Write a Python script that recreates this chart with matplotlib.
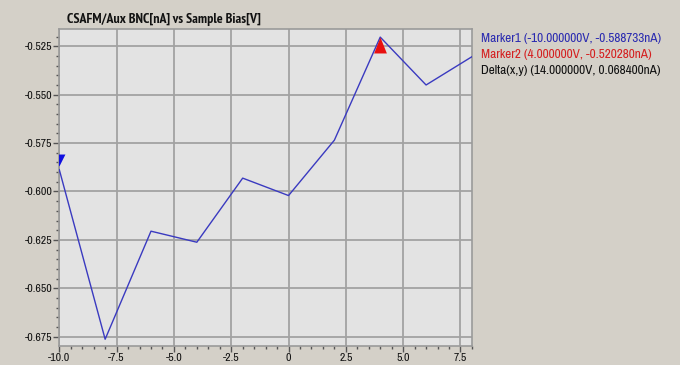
import matplotlib
matplotlib.use("Agg")
import matplotlib.pyplot as plt
from matplotlib.ticker import MultipleLocator, FuncFormatter

# Sweep data: sample bias [V] vs CSAFM/Aux BNC current [nA]
bias_v = [-10, -8, -6, -4, -2, 0, 2, 4, 6, 8]
current_na = [-0.588733, -0.6763, -0.6205, -0.6262, -0.5931, -0.6021,
              -0.5735, -0.520280, -0.5450, -0.5304]

marker1 = (-10.0, -0.588733)
marker2 = (4.0, -0.520280)
readouts = [
    ("Marker1 (-10.000000V, -0.588733nA)", "#2b2bb0"),
    ("Marker2 (4.000000V, -0.520280nA)", "#d42020"),
    ("Delta(x,y) (14.000000V, 0.068400nA)", "#111111"),
]

narrow = ["Archivo Narrow", "PT Sans Narrow", "Liberation Sans", "DejaVu Sans"]
narrow_bold = ["PT Sans Narrow", "Archivo Narrow", "Liberation Sans", "DejaVu Sans"]
plt.rcParams["font.family"] = narrow

fig = plt.figure(figsize=(6.8, 3.65), dpi=100, facecolor="#d4d0c8")
ax = fig.add_axes([0.0872, 0.052, 0.6068, 0.8685], facecolor="#e3e3e3")

ax.plot(bias_v, current_na, color="#3a3ac0", lw=1.0, zorder=3)

# Marker glyphs: marker 1 hangs just above its point, marker 2 has its apex on it
down_tri = [(0, 0.35), (-0.5, 1.35), (0.5, 1.35), (0, 0.35)]
up_tri = [(0, 0), (-0.4, -1.0), (0.4, -1.0), (0, 0)]
ax.plot([marker1[0]], [marker1[1]], marker=down_tri, ms=23, color="#1010e0",
        mec="none", ls="none", zorder=4, clip_on=True)
ax.plot([marker2[0]], [marker2[1]], marker=up_tri, ms=23, color="#e81010",
        mec="none", ls="none", zorder=4, clip_on=False)

ax.set_xlim(-10, 8)
ax.set_ylim(-0.6798, -0.5161)

ax.xaxis.set_major_locator(MultipleLocator(2.5))
ax.xaxis.set_minor_locator(MultipleLocator(0.5))
ax.yaxis.set_major_locator(MultipleLocator(0.025))
ax.yaxis.set_minor_locator(MultipleLocator(0.005))


def xfmt(v, pos):
    return "0" if abs(v) < 1e-9 else f"{v:.1f}"


ax.xaxis.set_major_formatter(FuncFormatter(xfmt))
ax.yaxis.set_major_formatter(FuncFormatter(lambda v, p: f"{v:.3f}"))

ax.grid(True, which="major", color="#a2a2a2", lw=1.3)
ax.set_axisbelow(True)
for s in ax.spines.values():
    s.set_color("#9a9a9a")
    s.set_linewidth(1.2)

ax.tick_params(axis="both", which="major", direction="out", length=4,
               width=1, color="#555555", labelsize=8.5, labelcolor="#111111", pad=1)
ax.tick_params(axis="both", which="minor", direction="out", length=2,
               width=1, color="#555555")

fig.text(67 / 680, 1 - 19.5 / 365, "CSAFM/Aux BNC[nA] vs Sample Bias[V]",
         fontsize=10, fontweight="bold", family=narrow_bold, color="#111111",
         va="center", ha="left")

for i, (txt, col) in enumerate(readouts):
    fig.text(481 / 680, 1 - (39 + 15.5 * i) / 365, txt, fontsize=9.5,
             color=col, va="center", ha="left")

fig.savefig("out.png", dpi=100, facecolor=fig.get_facecolor())
